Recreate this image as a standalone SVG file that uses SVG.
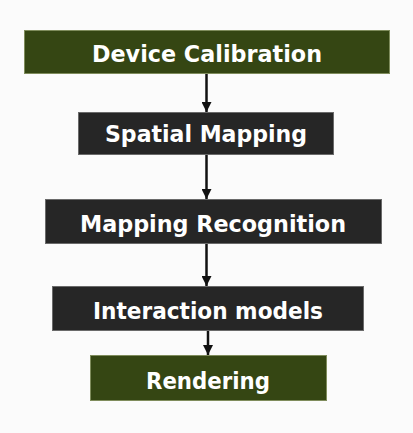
<svg xmlns="http://www.w3.org/2000/svg" width="413" height="433" viewBox="0 0 413 433">
  <defs>
    <style>
      .green { fill: #354613; stroke: #7f8c5c; stroke-width: 1; }
      .dark { fill: #262626; stroke: #6a6a6a; stroke-width: 1; }
      .label { font-family: "DejaVu Sans", "Liberation Sans", sans-serif; font-weight: bold; font-size: 23px; fill: #ffffff; text-anchor: middle; }
      .link { stroke: #111111; stroke-width: 2.5; fill: none; marker-end: url(#head); }
    </style>
    <marker id="head" viewBox="0 0 10 10" refX="10" refY="5" markerWidth="4" markerHeight="4" orient="auto" markerUnits="strokeWidth">
      <path d="M0,0 L10,5 L0,10 Z" fill="#111111"/>
    </marker>
  </defs>

  <rect x="0" y="0" width="413" height="433" fill="#fbfbfb"/>

  <g id="connectors">
    <line class="link" x1="206.5" y1="74" x2="206.5" y2="112"/>
    <line class="link" x1="206.5" y1="155" x2="206.5" y2="199"/>
    <line class="link" x1="206.5" y1="244" x2="206.5" y2="286"/>
    <line class="link" x1="208" y1="331" x2="208" y2="355"/>
  </g>

  <g id="device-calibration">
    <rect class="green" x="24.5" y="30.5" width="365" height="43"/>
    <text class="label" x="207" y="62" textLength="230" lengthAdjust="spacingAndGlyphs">Device Calibration</text>
  </g>

  <g id="spatial-mapping">
    <rect class="dark" x="78.5" y="112.5" width="255" height="42"/>
    <text class="label" x="206" y="142" textLength="202" lengthAdjust="spacingAndGlyphs">Spatial Mapping</text>
  </g>

  <g id="mapping-recognition">
    <rect class="dark" x="45.5" y="199.5" width="336" height="44"/>
    <text class="label" x="213" y="232" textLength="266" lengthAdjust="spacingAndGlyphs">Mapping Recognition</text>
  </g>

  <g id="interaction-models">
    <rect class="dark" x="52.5" y="286.5" width="311" height="44"/>
    <text class="label" x="208" y="319" textLength="230" lengthAdjust="spacingAndGlyphs">Interaction models</text>
  </g>

  <g id="rendering">
    <rect class="green" x="90.5" y="355.5" width="236" height="45"/>
    <text class="label" x="208" y="389" textLength="124" lengthAdjust="spacingAndGlyphs">Rendering</text>
  </g>
</svg>
